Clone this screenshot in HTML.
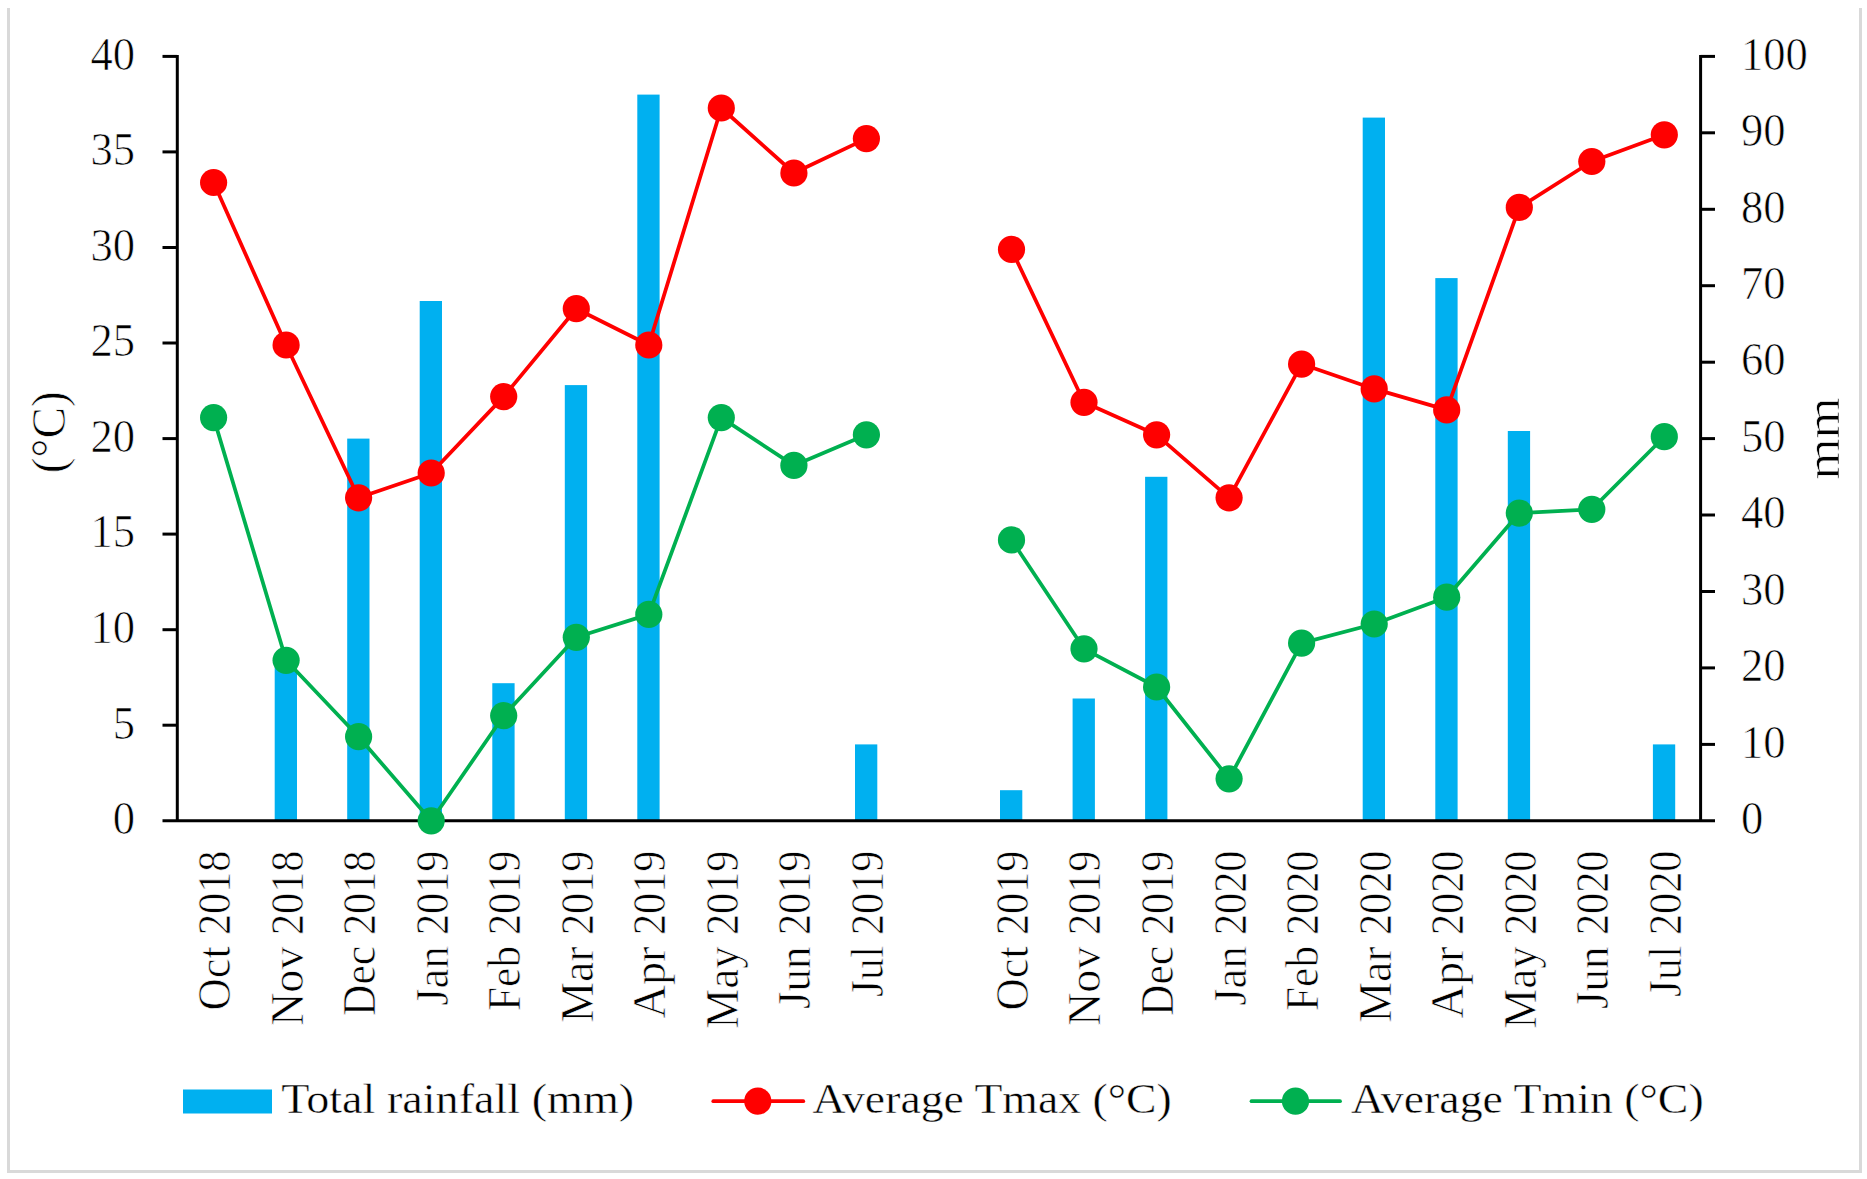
<!DOCTYPE html>
<html lang="en"><head><meta charset="utf-8"><title>Rainfall and temperature</title>
<style>html,body{margin:0;padding:0;background:#fff}svg{display:block}text{font-family:"Liberation Serif",serif;fill:#000;stroke:#fff;stroke-width:.7px}</style></head><body>
<svg width="1867" height="1179" viewBox="0 0 1867 1179">
<rect width="1867" height="1179" fill="#fff"/>
<path d="M8.5 8V1171.5H1860.5V8" fill="none" stroke="#D9D9D9" stroke-width="3"/>
<g fill="#00B0F0">
<rect x="274.7" y="660.3" width="22.3" height="160.5"/>
<rect x="347.2" y="438.6" width="22.3" height="382.2"/>
<rect x="419.7" y="301.0" width="22.3" height="519.8"/>
<rect x="492.3" y="683.2" width="22.3" height="137.6"/>
<rect x="564.8" y="385.1" width="22.3" height="435.7"/>
<rect x="637.3" y="94.6" width="22.3" height="726.2"/>
<rect x="855.0" y="744.4" width="22.3" height="76.4"/>
<rect x="1000.0" y="790.2" width="22.3" height="30.6"/>
<rect x="1072.6" y="698.5" width="22.3" height="122.3"/>
<rect x="1145.1" y="476.8" width="22.3" height="344.0"/>
<rect x="1362.7" y="117.6" width="22.3" height="703.2"/>
<rect x="1435.3" y="278.1" width="22.3" height="542.7"/>
<rect x="1507.8" y="431.0" width="22.3" height="389.8"/>
<rect x="1652.9" y="744.4" width="22.3" height="76.4"/>
</g>
<g stroke="#000" stroke-width="3" fill="none">
<path d="M177.3 54.9V820.8"/>
<path d="M1700.6 54.9V820.8"/>
<path d="M162.5 820.8H1715"/>
<path d="M162.5 725.2H177.3"/>
<path d="M162.5 629.7H177.3"/>
<path d="M162.5 534.1H177.3"/>
<path d="M162.5 438.6H177.3"/>
<path d="M162.5 343.0H177.3"/>
<path d="M162.5 247.5H177.3"/>
<path d="M162.5 151.9H177.3"/>
<path d="M162.5 56.4H177.3"/>
<path d="M1700.6 744.4H1715"/>
<path d="M1700.6 667.9H1715"/>
<path d="M1700.6 591.5H1715"/>
<path d="M1700.6 515.0H1715"/>
<path d="M1700.6 438.6H1715"/>
<path d="M1700.6 362.2H1715"/>
<path d="M1700.6 285.7H1715"/>
<path d="M1700.6 209.3H1715"/>
<path d="M1700.6 132.8H1715"/>
<path d="M1700.6 56.4H1715"/>
</g>
<path d="M213.6 182.5L286.1 345.0L358.6 497.8L431.2 473.0L503.7 396.6L576.3 308.7L648.8 345.0L721.3 108.0L793.9 173.0L866.4 138.6" fill="none" stroke="#FF0000" stroke-width="3.75" stroke-linejoin="round"/>
<g fill="#FF0000"><circle cx="213.6" cy="182.5" r="13.6"/><circle cx="286.1" cy="345.0" r="13.6"/><circle cx="358.6" cy="497.8" r="13.6"/><circle cx="431.2" cy="473.0" r="13.6"/><circle cx="503.7" cy="396.6" r="13.6"/><circle cx="576.3" cy="308.7" r="13.6"/><circle cx="648.8" cy="345.0" r="13.6"/><circle cx="721.3" cy="108.0" r="13.6"/><circle cx="793.9" cy="173.0" r="13.6"/><circle cx="866.4" cy="138.6" r="13.6"/></g>
<path d="M1011.5 249.4L1084.0 402.3L1156.6 434.8L1229.1 497.8L1301.6 364.1L1374.2 388.9L1446.7 409.9L1519.3 207.4L1591.8 161.5L1664.3 134.8" fill="none" stroke="#FF0000" stroke-width="3.75" stroke-linejoin="round"/>
<g fill="#FF0000"><circle cx="1011.5" cy="249.4" r="13.6"/><circle cx="1084.0" cy="402.3" r="13.6"/><circle cx="1156.6" cy="434.8" r="13.6"/><circle cx="1229.1" cy="497.8" r="13.6"/><circle cx="1301.6" cy="364.1" r="13.6"/><circle cx="1374.2" cy="388.9" r="13.6"/><circle cx="1446.7" cy="409.9" r="13.6"/><circle cx="1519.3" cy="207.4" r="13.6"/><circle cx="1591.8" cy="161.5" r="13.6"/><circle cx="1664.3" cy="134.8" r="13.6"/></g>
<path d="M213.6 417.6L286.1 660.3L358.6 736.7L431.2 820.8L503.7 715.7L576.3 637.3L648.8 614.4L721.3 417.6L793.9 465.4L866.4 434.8" fill="none" stroke="#00B050" stroke-width="3.75" stroke-linejoin="round"/>
<g fill="#00B050"><circle cx="213.6" cy="417.6" r="13.6"/><circle cx="286.1" cy="660.3" r="13.6"/><circle cx="358.6" cy="736.7" r="13.6"/><circle cx="431.2" cy="820.8" r="13.6"/><circle cx="503.7" cy="715.7" r="13.6"/><circle cx="576.3" cy="637.3" r="13.6"/><circle cx="648.8" cy="614.4" r="13.6"/><circle cx="721.3" cy="417.6" r="13.6"/><circle cx="793.9" cy="465.4" r="13.6"/><circle cx="866.4" cy="434.8" r="13.6"/></g>
<path d="M1011.5 539.9L1084.0 648.8L1156.6 687.0L1229.1 778.8L1301.6 643.1L1374.2 624.0L1446.7 597.2L1519.3 513.1L1591.8 509.3L1664.3 436.7" fill="none" stroke="#00B050" stroke-width="3.75" stroke-linejoin="round"/>
<g fill="#00B050"><circle cx="1011.5" cy="539.9" r="13.6"/><circle cx="1084.0" cy="648.8" r="13.6"/><circle cx="1156.6" cy="687.0" r="13.6"/><circle cx="1229.1" cy="778.8" r="13.6"/><circle cx="1301.6" cy="643.1" r="13.6"/><circle cx="1374.2" cy="624.0" r="13.6"/><circle cx="1446.7" cy="597.2" r="13.6"/><circle cx="1519.3" cy="513.1" r="13.6"/><circle cx="1591.8" cy="509.3" r="13.6"/><circle cx="1664.3" cy="436.7" r="13.6"/></g>
<g font-size="46" text-anchor="end">
<text x="135" y="834.0" textLength="22.3" lengthAdjust="spacingAndGlyphs">0</text>
<text x="135" y="738.5" textLength="22.3" lengthAdjust="spacingAndGlyphs">5</text>
<text x="135" y="642.9" textLength="44.6" lengthAdjust="spacingAndGlyphs">10</text>
<text x="135" y="547.4" textLength="44.6" lengthAdjust="spacingAndGlyphs">15</text>
<text x="135" y="451.8" textLength="44.6" lengthAdjust="spacingAndGlyphs">20</text>
<text x="135" y="356.2" textLength="44.6" lengthAdjust="spacingAndGlyphs">25</text>
<text x="135" y="260.7" textLength="44.6" lengthAdjust="spacingAndGlyphs">30</text>
<text x="135" y="165.1" textLength="44.6" lengthAdjust="spacingAndGlyphs">35</text>
<text x="135" y="69.6" textLength="44.6" lengthAdjust="spacingAndGlyphs">40</text>
</g>
<g font-size="46">
<text x="1741" y="834.0" textLength="22.3" lengthAdjust="spacingAndGlyphs">0</text>
<text x="1741" y="757.6" textLength="44.6" lengthAdjust="spacingAndGlyphs">10</text>
<text x="1741" y="681.1" textLength="44.6" lengthAdjust="spacingAndGlyphs">20</text>
<text x="1741" y="604.7" textLength="44.6" lengthAdjust="spacingAndGlyphs">30</text>
<text x="1741" y="528.2" textLength="44.6" lengthAdjust="spacingAndGlyphs">40</text>
<text x="1741" y="451.8" textLength="44.6" lengthAdjust="spacingAndGlyphs">50</text>
<text x="1741" y="375.4" textLength="44.6" lengthAdjust="spacingAndGlyphs">60</text>
<text x="1741" y="298.9" textLength="44.6" lengthAdjust="spacingAndGlyphs">70</text>
<text x="1741" y="222.5" textLength="44.6" lengthAdjust="spacingAndGlyphs">80</text>
<text x="1741" y="146.0" textLength="44.6" lengthAdjust="spacingAndGlyphs">90</text>
<text x="1741" y="69.6" textLength="66.9" lengthAdjust="spacingAndGlyphs">100</text>
</g>
<g font-size="46" text-anchor="end">
<text transform="translate(230.0 850.6) rotate(-90)"><tspan textLength="75.6" lengthAdjust="spacingAndGlyphs">Oct </tspan><tspan textLength="84.4" lengthAdjust="spacingAndGlyphs">2018</tspan></text>
<text transform="translate(302.5 850.6) rotate(-90)"><tspan textLength="91.0" lengthAdjust="spacingAndGlyphs">Nov </tspan><tspan textLength="84.4" lengthAdjust="spacingAndGlyphs">2018</tspan></text>
<text transform="translate(375.0 850.6) rotate(-90)"><tspan textLength="81.0" lengthAdjust="spacingAndGlyphs">Dec </tspan><tspan textLength="84.4" lengthAdjust="spacingAndGlyphs">2018</tspan></text>
<text transform="translate(447.6 850.6) rotate(-90)"><tspan textLength="70.8" lengthAdjust="spacingAndGlyphs">Jan </tspan><tspan textLength="84.4" lengthAdjust="spacingAndGlyphs">2019</tspan></text>
<text transform="translate(520.1 850.6) rotate(-90)"><tspan textLength="76.1" lengthAdjust="spacingAndGlyphs">Feb </tspan><tspan textLength="84.4" lengthAdjust="spacingAndGlyphs">2019</tspan></text>
<text transform="translate(592.7 850.6) rotate(-90)"><tspan textLength="87.6" lengthAdjust="spacingAndGlyphs">Mar </tspan><tspan textLength="84.4" lengthAdjust="spacingAndGlyphs">2019</tspan></text>
<text transform="translate(665.2 850.6) rotate(-90)"><tspan textLength="83.4" lengthAdjust="spacingAndGlyphs">Apr </tspan><tspan textLength="84.4" lengthAdjust="spacingAndGlyphs">2019</tspan></text>
<text transform="translate(737.7 850.6) rotate(-90)"><tspan textLength="93.8" lengthAdjust="spacingAndGlyphs">May </tspan><tspan textLength="84.4" lengthAdjust="spacingAndGlyphs">2019</tspan></text>
<text transform="translate(810.3 850.6) rotate(-90)"><tspan textLength="74.1" lengthAdjust="spacingAndGlyphs">Jun </tspan><tspan textLength="84.4" lengthAdjust="spacingAndGlyphs">2019</tspan></text>
<text transform="translate(882.8 850.6) rotate(-90)"><tspan textLength="62.0" lengthAdjust="spacingAndGlyphs">Jul </tspan><tspan textLength="84.4" lengthAdjust="spacingAndGlyphs">2019</tspan></text>
<text transform="translate(1027.9 850.6) rotate(-90)"><tspan textLength="75.6" lengthAdjust="spacingAndGlyphs">Oct </tspan><tspan textLength="84.4" lengthAdjust="spacingAndGlyphs">2019</tspan></text>
<text transform="translate(1100.4 850.6) rotate(-90)"><tspan textLength="91.0" lengthAdjust="spacingAndGlyphs">Nov </tspan><tspan textLength="84.4" lengthAdjust="spacingAndGlyphs">2019</tspan></text>
<text transform="translate(1173.0 850.6) rotate(-90)"><tspan textLength="81.0" lengthAdjust="spacingAndGlyphs">Dec </tspan><tspan textLength="84.4" lengthAdjust="spacingAndGlyphs">2019</tspan></text>
<text transform="translate(1245.5 850.6) rotate(-90)"><tspan textLength="70.8" lengthAdjust="spacingAndGlyphs">Jan </tspan><tspan textLength="84.4" lengthAdjust="spacingAndGlyphs">2020</tspan></text>
<text transform="translate(1318.0 850.6) rotate(-90)"><tspan textLength="76.1" lengthAdjust="spacingAndGlyphs">Feb </tspan><tspan textLength="84.4" lengthAdjust="spacingAndGlyphs">2020</tspan></text>
<text transform="translate(1390.6 850.6) rotate(-90)"><tspan textLength="87.6" lengthAdjust="spacingAndGlyphs">Mar </tspan><tspan textLength="84.4" lengthAdjust="spacingAndGlyphs">2020</tspan></text>
<text transform="translate(1463.1 850.6) rotate(-90)"><tspan textLength="83.4" lengthAdjust="spacingAndGlyphs">Apr </tspan><tspan textLength="84.4" lengthAdjust="spacingAndGlyphs">2020</tspan></text>
<text transform="translate(1535.7 850.6) rotate(-90)"><tspan textLength="93.8" lengthAdjust="spacingAndGlyphs">May </tspan><tspan textLength="84.4" lengthAdjust="spacingAndGlyphs">2020</tspan></text>
<text transform="translate(1608.2 850.6) rotate(-90)"><tspan textLength="74.1" lengthAdjust="spacingAndGlyphs">Jun </tspan><tspan textLength="84.4" lengthAdjust="spacingAndGlyphs">2020</tspan></text>
<text transform="translate(1680.7 850.6) rotate(-90)"><tspan textLength="62.0" lengthAdjust="spacingAndGlyphs">Jul </tspan><tspan textLength="84.4" lengthAdjust="spacingAndGlyphs">2020</tspan></text>
</g>
<text font-size="48" text-anchor="middle" transform="translate(65 432.2) rotate(-90)" textLength="82" lengthAdjust="spacingAndGlyphs">(°C)</text>
<text font-size="48" text-anchor="middle" transform="translate(1839.2 438.4) rotate(-90)" textLength="82.3" lengthAdjust="spacingAndGlyphs">mm</text>
<rect x="183" y="1089.5" width="89" height="24" fill="#00B0F0"/>
<text x="281.2" y="1113" font-size="42" style="stroke-width:.45px" textLength="353" lengthAdjust="spacingAndGlyphs">Total rainfall (mm)</text>
<path d="M713.3 1101.2H803.3" stroke="#FF0000" stroke-width="3.75" stroke-linecap="round"/><circle cx="757.8" cy="1101.2" r="13.6" fill="#FF0000"/>
<text x="812.4" y="1113" font-size="42" style="stroke-width:.45px" textLength="359.3" lengthAdjust="spacingAndGlyphs">Average Tmax (°C)</text>
<path d="M1251.5 1101.2H1340" stroke="#00B050" stroke-width="3.75" stroke-linecap="round"/><circle cx="1295.5" cy="1101.2" r="13.6" fill="#00B050"/>
<text x="1351.1" y="1113" font-size="42" style="stroke-width:.45px" textLength="352.6" lengthAdjust="spacingAndGlyphs">Average Tmin (°C)</text>
</svg></body></html>
